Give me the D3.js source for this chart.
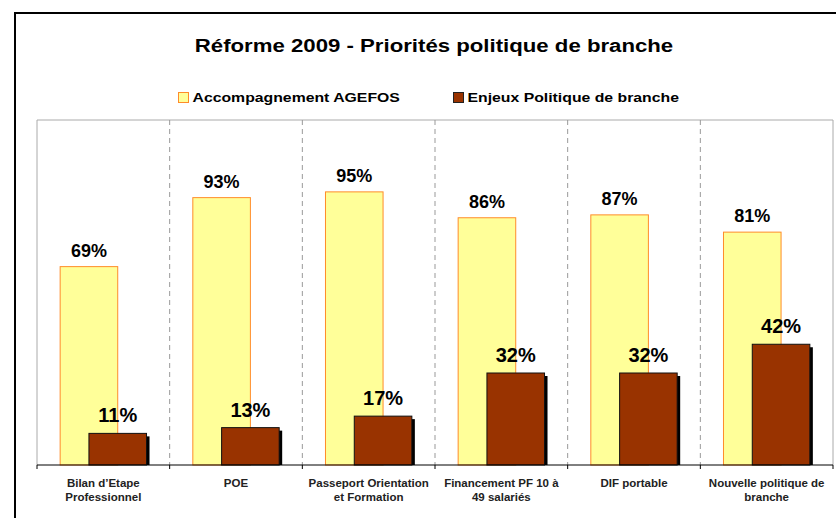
<!DOCTYPE html>
<html>
<head>
<meta charset="utf-8">
<script src="https://cdn.jsdelivr.net/npm/d3@7"></script>
<style>
  body { margin: 0; background: #fff; }
  svg { display: block; font-family: Arial, "Liberation Sans", sans-serif; }
</style>
</head>
<body>
<div id="chart"></div>
<script>
// Data
const categories = [
    ["Bilan d\u2019Etape", "Professionnel"],
    ["POE"],
    ["Passeport Orientation", "et Formation"],
    ["Financement PF 10 \u00e0", "49 salari\u00e9s"],
    ["DIF portable"],
    ["Nouvelle politique de", "branche"]
];
const accompagnement = [0.69, 0.93, 0.95, 0.86, 0.87, 0.81];
const enjeux = [0.11, 0.13, 0.17, 0.32, 0.32, 0.42];
const seriesNames = ["Accompagnement AGEFOS", "Enjeux Politique de branche"];
const yMax = 1.2;

// Sizes
const viewW = 836;
const viewH = 518;
const plot = { left: 37, right: 833, top: 120, bottom: 465 };

const svg = d3.select("#chart")
    .append("svg")
    .attr("width", viewW)
    .attr("height", viewH);

// outer chart border (runs off the right and bottom edges)
svg.append("rect")
    .attr("x", 15).attr("y", 13)
    .attr("width", 900).attr("height", 600)
    .attr("fill", "#fff")
    .attr("stroke", "#000")
    .attr("stroke-width", 2);

// Scales
const keys = categories.map((c, i) => i);
const gap = 0.349;  // Excel gap width ~80%
const x = d3.scaleBand()
    .domain(keys)
    .range([plot.left, plot.right])
    .paddingInner(gap)
    .paddingOuter(gap / 2);
const y = d3.scaleLinear().domain([0, yMax]).range([plot.bottom, plot.top]);

const barW = x.bandwidth() / 1.5;   // 50% overlap
const step = x.step();

// plot area frame
svg.append("path")
    .attr("d", `M${plot.left},${plot.bottom}V${plot.top}H${plot.right}V${plot.bottom}`)
    .attr("fill", "none")
    .attr("stroke", "#aaa")
    .attr("stroke-width", 1);

// dashed category separators
svg.append("g")
    .selectAll("line")
    .data(keys.slice(1))
    .join("line")
    .attr("x1", i => plot.left + i * step)
    .attr("x2", i => plot.left + i * step)
    .attr("y1", plot.top)
    .attr("y2", plot.bottom)
    .attr("stroke", "#999")
    .attr("stroke-dasharray", "5,4");

// yellow bars
svg.append("g")
    .selectAll("rect")
    .data(accompagnement)
    .join("rect")
    .attr("x", (d, i) => x(i))
    .attr("y", d => y(d))
    .attr("width", barW)
    .attr("height", d => plot.bottom - y(d))
    .attr("fill", "#ffff99")
    .attr("stroke", "#ff8c2a")
    .attr("stroke-width", 1);

// brown bars: shadow first
const brown = svg.append("g");
brown.selectAll("rect.shadow")
    .data(enjeux)
    .join("rect")
    .attr("class", "shadow")
    .attr("x", (d, i) => x(i) + x.bandwidth() / 3 + 3)
    .attr("y", d => y(d) + 3)
    .attr("width", barW)
    .attr("height", d => plot.bottom - y(d) - 3)
    .attr("fill", "#000");

brown.selectAll("rect.bar")
    .data(enjeux)
    .join("rect")
    .attr("class", "bar")
    .attr("x", (d, i) => x(i) + x.bandwidth() / 3)
    .attr("y", d => y(d))
    .attr("width", barW)
    .attr("height", d => plot.bottom - y(d))
    .attr("fill", "#993300")
    .attr("stroke", "#111")
    .attr("stroke-width", 1);

// value labels
const fmt = d3.format(".0%");
svg.append("g")
    .selectAll("text")
    .data(accompagnement)
    .join("text")
    .attr("x", (d, i) => x(i) + barW / 2)
    .attr("y", d => y(d) - 10)
    .attr("text-anchor", "middle")
    .attr("font-size", 18)
    .attr("font-weight", "bold")
    .text(d => fmt(d));

svg.append("g")
    .selectAll("text")
    .data(enjeux)
    .join("text")
    .attr("x", (d, i) => x(i) + x.bandwidth() / 3 + barW / 2)
    .attr("y", d => y(d) - 11)
    .attr("text-anchor", "middle")
    .attr("font-size", 20)
    .attr("font-weight", "bold")
    .text(d => fmt(d));

// x axis
const xAxis = svg.append("g");
xAxis.append("line")
    .attr("x1", plot.left).attr("x2", plot.right)
    .attr("y1", plot.bottom).attr("y2", plot.bottom)
    .attr("stroke", "#000");
xAxis.selectAll("line.tick")
    .data(d3.range(categories.length + 1))
    .join("line")
    .attr("class", "tick")
    .attr("x1", i => plot.left + i * step)
    .attr("x2", i => plot.left + i * step)
    .attr("y1", plot.bottom)
    .attr("y2", plot.bottom + 4)
    .attr("stroke", "#000");

xAxis.selectAll("text")
    .data(categories)
    .join("text")
    .attr("x", (d, i) => plot.left + (i + 0.5) * step)
    .attr("y", 487)
    .attr("text-anchor", "middle")
    .attr("font-size", 11.5)
    .attr("font-weight", "bold")
    .attr("fill", "#222")
    .selectAll("tspan")
    .data(d => d)
    .join("tspan")
    .attr("x", function() { return this.parentNode.getAttribute("x"); })
    .attr("dy", (d, j) => j === 0 ? 0 : 13.5)
    .text(d => d);

// title
svg.append("text")
    .attr("transform", "translate(434,52) scale(1.2,1)")
    .attr("text-anchor", "middle")
    .attr("font-size", 18.5)
    .attr("font-weight", "bold")
    .text("R\u00e9forme 2009 - Priorit\u00e9s politique de branche");

// legend
const legendItems = [
    { name: seriesNames[0], x: 178, fill: "#ffff99", stroke: "#ff8c2a" },
    { name: seriesNames[1], x: 453, fill: "#993300", stroke: "#222" }
];
const legend = svg.append("g")
    .selectAll("g")
    .data(legendItems)
    .join("g")
    .attr("transform", d => `translate(${d.x},92)`);
legend.append("rect")
    .attr("x", 0.5).attr("y", 0.5)
    .attr("width", 10).attr("height", 10)
    .attr("fill", d => d.fill)
    .attr("stroke", d => d.stroke);
legend.append("text")
    .attr("transform", "translate(14.5,10) scale(1.17,1)")
    .attr("font-size", 13.5)
    .attr("font-weight", "bold")
    .text(d => d.name);
</script>
</body>
</html>
